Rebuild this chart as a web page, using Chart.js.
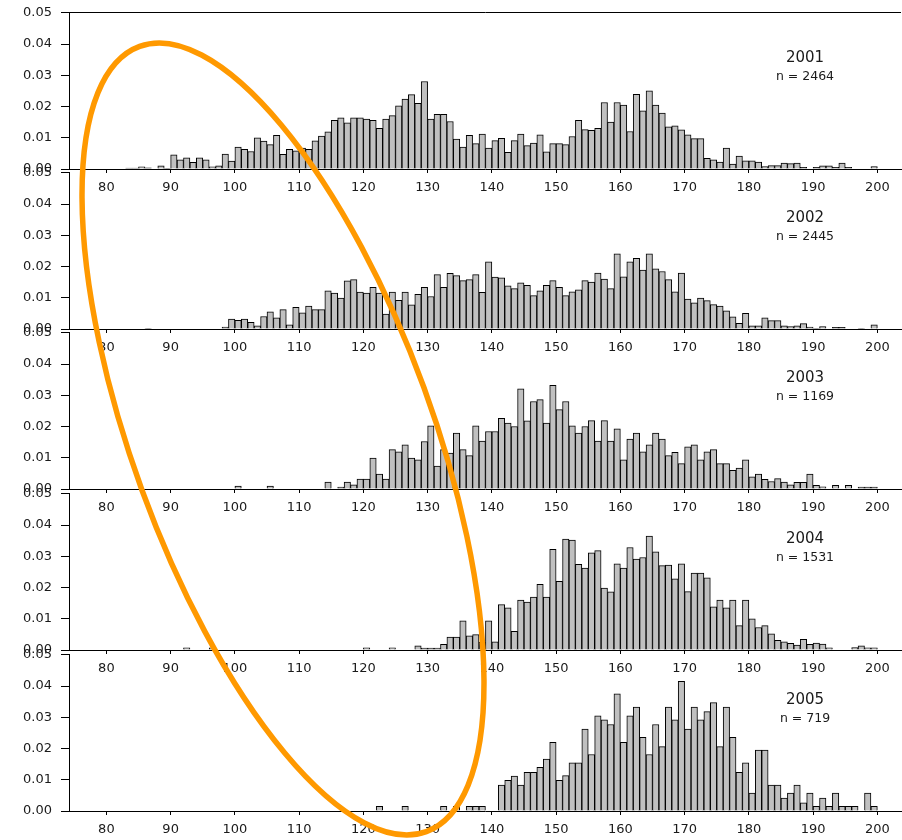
<!DOCTYPE html>
<html>
<head>
<meta charset="utf-8">
<script src="https://cdn.jsdelivr.net/npm/chart.js@4.4.0/dist/chart.umd.min.js"></script>
<style>
  html, body { margin: 0; padding: 0; background: #fff; overflow: hidden; }
  #wrap { position: relative; width: 902px; height: 840px; }
  #wrap canvas { position: absolute; left: 0; }
</style>
</head>
<body>
<div id="wrap"></div>
<script>
// Relative frequency of body length (1-unit bins) per survey year
const years = ['2001', '2002', '2003', '2004', '2005'];
const sampleSizes = [2464, 2445, 1169, 1531, 719];

// left edge of every bin, 82 .. 200
const binStarts = Array.from({ length: 119 }, (_, i) => 82 + i);

const xTicks = [80, 90, 100, 110, 120, 130, 140, 150, 160, 170, 180, 190, 200];
const yTicks = [0, 0.01, 0.02, 0.03, 0.04, 0.05];

const d2001 = [
  0, 0.0003, 0.0003, 0.0007, 0.0004, 0, 0.0010, 0.0002, 0.0045, 0.0029,
  0.0036, 0.0021, 0.0036, 0.0029, 0.0007, 0.0010, 0.0048, 0.0025, 0.0070, 0.0063,
  0.0056, 0.0100, 0.0089, 0.0078, 0.0108, 0.0047, 0.0063, 0.0058, 0.0067, 0.0063,
  0.0090, 0.0105, 0.0119, 0.0156, 0.0164, 0.0148, 0.0164, 0.0164, 0.0160, 0.0156,
  0.0130, 0.0160, 0.0171, 0.0202, 0.0224, 0.0238, 0.0210, 0.0280, 0.0160, 0.0175,
  0.0175, 0.0152, 0.0096, 0.0070, 0.0108, 0.0081, 0.0112, 0.0067, 0.0091, 0.0098,
  0.0053, 0.0091, 0.0112, 0.0075, 0.0083, 0.0109, 0.0055, 0.0081, 0.0081, 0.0078,
  0.0104, 0.0156, 0.0126, 0.0124, 0.0130, 0.0213, 0.0150, 0.0213, 0.0205, 0.0120,
  0.0239, 0.0186, 0.0250, 0.0205, 0.0179, 0.0135, 0.0138, 0.0125, 0.0109, 0.0097,
  0.0097, 0.0034, 0.0029, 0.0022, 0.0067, 0.0016, 0.0041, 0.0026, 0.0026, 0.0022,
  0.0008, 0.0011, 0.0011, 0.0019, 0.0017, 0.0019, 0.0005, 0, 0.0005, 0.0010,
  0.0010, 0.0005, 0.0019, 0.0005, 0, 0, 0, 0.0008, 0
];

const d2002 = [
  0, 0, 0, 0, 0.0002, 0, 0, 0, 0, 0,
  0, 0, 0, 0, 0, 0, 0.0006, 0.0032, 0.0028, 0.0032,
  0.0021, 0.0010, 0.0040, 0.0055, 0.0036, 0.0062, 0.0013, 0.0069, 0.0052, 0.0073,
  0.0062, 0.0062, 0.0122, 0.0115, 0.0099, 0.0154, 0.0158, 0.0118, 0.0115, 0.0133,
  0.0115, 0.0048, 0.0118, 0.0092, 0.0118, 0.0077, 0.0111, 0.0133, 0.0104, 0.0174,
  0.0133, 0.0178, 0.0171, 0.0155, 0.0158, 0.0174, 0.0117, 0.0215, 0.0166, 0.0164,
  0.0138, 0.0129, 0.0148, 0.0140, 0.0107, 0.0122, 0.0140, 0.0155, 0.0133, 0.0107,
  0.0119, 0.0125, 0.0155, 0.0150, 0.0179, 0.0160, 0.0129, 0.0241, 0.0167, 0.0215,
  0.0226, 0.0189, 0.0241, 0.0193, 0.0184, 0.0158, 0.0119, 0.0179, 0.0096, 0.0084,
  0.0099, 0.0091, 0.0078, 0.0073, 0.0058, 0.0039, 0.0018, 0.0050, 0.0010, 0.0010,
  0.0036, 0.0027, 0.0027, 0.0010, 0.0008, 0.0010, 0.0017, 0.0006, 0.0002, 0.0008,
  0, 0.0005, 0.0005, 0, 0, 0.0002, 0, 0.0013, 0
];

const d2003 = [
  0, 0, 0, 0, 0, 0, 0, 0, 0, 0,
  0, 0, 0, 0, 0, 0, 0, 0, 0.0009, 0,
  0, 0, 0, 0.0009, 0, 0, 0, 0, 0, 0,
  0, 0, 0.0022, 0, 0.0006, 0.0022, 0.0013, 0.0032, 0.0032, 0.0099,
  0.0048, 0.0032, 0.0126, 0.0119, 0.0141, 0.0099, 0.0093, 0.0152, 0.0202, 0.0073,
  0.0126, 0.0115, 0.0179, 0.0126, 0.0107, 0.0202, 0.0153, 0.0184, 0.0184, 0.0226,
  0.0211, 0.0200, 0.0321, 0.0218, 0.0280, 0.0286, 0.0211, 0.0332, 0.0254, 0.0280,
  0.0202, 0.0179, 0.0200, 0.0219, 0.0153, 0.0219, 0.0153, 0.0193, 0.0093, 0.0160,
  0.0179, 0.0119, 0.0141, 0.0179, 0.0160, 0.0107, 0.0117, 0.0081, 0.0135, 0.0141,
  0.0093, 0.0119, 0.0126, 0.0081, 0.0081, 0.0060, 0.0067, 0.0093, 0.0039, 0.0048,
  0.0031, 0.0024, 0.0033, 0.0022, 0.0013, 0.0021, 0.0021, 0.0048, 0.0012, 0.0007,
  0, 0.0012, 0, 0.0012, 0, 0.0006, 0.0006, 0.0006, 0
];

const d2004 = [
  0, 0, 0, 0, 0, 0, 0, 0, 0, 0,
  0.0007, 0, 0, 0, 0.0007, 0, 0, 0, 0, 0,
  0, 0, 0, 0, 0, 0, 0, 0, 0, 0,
  0, 0, 0, 0, 0, 0, 0, 0, 0.0007, 0,
  0, 0, 0.0007, 0, 0, 0, 0.0013, 0.0006, 0.0006, 0.0006,
  0.0018, 0.0041, 0.0041, 0.0093, 0.0045, 0.0049, 0.0025, 0.0093, 0.0026, 0.0145,
  0.0135, 0.0060, 0.0160, 0.0153, 0.0169, 0.0210, 0.0169, 0.0322, 0.0220, 0.0355,
  0.0352, 0.0274, 0.0262, 0.0311, 0.0318, 0.0198, 0.0186, 0.0276, 0.0262, 0.0328,
  0.0291, 0.0296, 0.0365, 0.0314, 0.0270, 0.0272, 0.0228, 0.0276, 0.0187, 0.0246,
  0.0246, 0.0231, 0.0138, 0.0160, 0.0135, 0.0160, 0.0078, 0.0160, 0.0100, 0.0072,
  0.0078, 0.0052, 0.0031, 0.0026, 0.0021, 0.0016, 0.0034, 0.0018, 0.0022, 0.0019,
  0.0007, 0, 0, 0, 0.0008, 0.0013, 0.0007, 0.0007, 0
];

const d2005 = [
  0, 0, 0, 0, 0, 0, 0, 0, 0, 0,
  0, 0, 0, 0, 0, 0, 0, 0, 0, 0,
  0, 0, 0, 0, 0, 0, 0, 0, 0, 0,
  0, 0, 0, 0, 0, 0, 0, 0, 0, 0,
  0.0015, 0, 0, 0, 0.0015, 0, 0, 0, 0, 0,
  0.0015, 0, 0.0015, 0, 0.0015, 0.0015, 0.0015, 0, 0, 0.0083,
  0.0098, 0.0112, 0.0083, 0.0124, 0.0124, 0.0140, 0.0166, 0.0220, 0.0098, 0.0113,
  0.0154, 0.0154, 0.0262, 0.0181, 0.0305, 0.0292, 0.0277, 0.0375, 0.0220, 0.0305,
  0.0333, 0.0236, 0.0181, 0.0277, 0.0206, 0.0333, 0.0292, 0.0415, 0.0262, 0.0333,
  0.0292, 0.0318, 0.0347, 0.0206, 0.0333, 0.0236, 0.0124, 0.0154, 0.0057, 0.0195,
  0.0195, 0.0083, 0.0083, 0.0041, 0.0057, 0.0083, 0.0026, 0.0057, 0.0015, 0.0041,
  0.0015, 0.0057, 0.0015, 0.0015, 0.0015, 0, 0.0057, 0.0015, 0
];

const densities = [d2001, d2002, d2003, d2004, d2005];

// ---- layout of the stacked panels ----
const FONT = 'DejaVu Sans';
const TEXT = '#1a1a1a';
const PLOT_H = 161;      // height of 0.00 .. 0.05
const PAD_TOP = 12;
const X_AXIS_H = 32;
const Y_AXIS_W = 69;
const panelBottoms = [169, 329, 489, 650, 811];

// year and sample size written in the upper right of each panel
const panelLabel = {
  id: 'panelLabel',
  afterDraw(chart, args, opts) {
    const { ctx, chartArea } = chart;
    const cx = chartArea.right - 96;
    ctx.save();
    ctx.fillStyle = TEXT;
    ctx.textAlign = 'center';
    ctx.textBaseline = 'middle';
    ctx.font = `15px "${FONT}"`;
    ctx.fillText(opts.year, cx, chartArea.top + 45);
    ctx.font = `12.5px "${FONT}"`;
    ctx.fillText(`n = ${opts.n}`, cx, chartArea.top + 64);
    ctx.restore();
  }
};

const wrap = document.getElementById('wrap');

years.forEach((year, k) => {
  const canvas = document.createElement('canvas');
  canvas.width = 902;
  canvas.height = PAD_TOP + PLOT_H + X_AXIS_H;
  canvas.style.top = (panelBottoms[k] - PLOT_H - PAD_TOP) + 'px';
  wrap.appendChild(canvas);

  new Chart(canvas, {
    type: 'bar',
    data: {
      datasets: [{
        data: binStarts.map((b, i) => ({ x: b + 0.5, y: densities[k][i] })),
        backgroundColor: '#c0c0c0',
        borderColor: '#000',
        borderWidth: 1,
        borderSkipped: 'start',
        barPercentage: 1,
        categoryPercentage: 1
      }]
    },
    options: {
      responsive: false,
      animation: false,
      events: [],
      layout: { padding: { top: PAD_TOP, right: 1, left: 0, bottom: 0 } },
      plugins: {
        legend: { display: false },
        tooltip: { enabled: false },
        panelLabel: { year: year, n: sampleSizes[k] }
      },
      scales: {
        x: {
          type: 'linear',
          min: 74.18,
          max: 203.68,
          offset: false,
          afterBuildTicks: s => { s.ticks = xTicks.map(v => ({ value: v })); },
          afterFit: s => { s.height = X_AXIS_H; },
          grid: {
            offset: false,
            drawOnChartArea: false,
            drawTicks: true,
            tickLength: 4,
            color: '#000',
            tickColor: '#000'
          },
          border: { display: true, color: '#000', width: 1 },
          ticks: {
            padding: 7,
            color: TEXT,
            autoSkip: false,
            maxRotation: 0,
            font: { family: FONT, size: 13 },
            callback: v => String(v)
          }
        },
        y: {
          min: 0,
          max: 0.05,
          afterBuildTicks: s => { s.ticks = yTicks.map(v => ({ value: v })); },
          afterFit: s => { s.width = Y_AXIS_W; },
          grid: {
            drawOnChartArea: k === 0,
            color: c => (c.tick && c.tick.value === 0.05) ? '#000' : 'rgba(0,0,0,0)',
            tickColor: '#000',
            tickLength: 8
          },
          border: { display: true, color: '#000', width: 1 },
          ticks: {
            padding: 9,
            color: TEXT,
            font: { family: FONT, size: 13 },
            callback: v => Number(v).toFixed(2)
          }
        }
      }
    },
    plugins: [panelLabel]
  });
});

// orange highlight ring drawn over the panels
const ring = document.createElement('canvas');
ring.width = 902;
ring.height = 840;
ring.style.top = '0px';
wrap.appendChild(ring);
const rc = ring.getContext('2d');
rc.strokeStyle = '#ff9900';
rc.lineWidth = 5.5;
rc.beginPath();
rc.ellipse(283, 439, 150, 418, -0.35, 0, Math.PI * 2);
rc.stroke();
</script>
</body>
</html>
